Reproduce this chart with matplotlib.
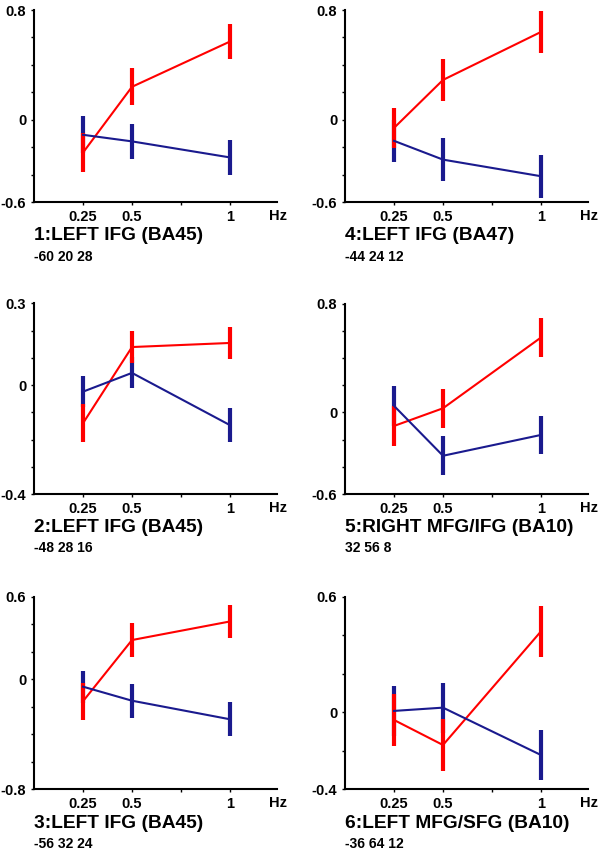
import matplotlib
matplotlib.use("Agg")
import matplotlib.pyplot as plt
import numpy as np

plt.rcParams['font.family'] = ['Liberation Sans', 'DejaVu Sans']
plt.rcParams['font.weight'] = 'bold'

freqs = [0.25, 0.5, 1.0]

titles = ["1:LEFT IFG (BA45)", "2:LEFT IFG (BA45)", "3:LEFT IFG (BA45)",
          "4:LEFT IFG (BA47)", "5:RIGHT MFG/IFG (BA10)", "6:LEFT MFG/SFG (BA10)"]
coords = ["-60 20 28", "-48 28 16", "-56 32 24",
          "-44 24 12", "32 56 8", "-36 64 12"]

red_mean = [[-0.24, 0.24, 0.57], [-0.14, 0.14, 0.155], [-0.16, 0.285, 0.42],
            [-0.06, 0.29, 0.64], [-0.10, 0.03, 0.55], [-0.04, -0.17, 0.42]]
red_err = [[0.14, 0.135, 0.13], [0.07, 0.06, 0.06], [0.135, 0.125, 0.122],
           [0.146, 0.156, 0.155], [0.15, 0.142, 0.141], [0.134, 0.133, 0.132]]
blue_mean = [[-0.11, -0.158, -0.275], [-0.024, 0.045, -0.147], [-0.054, -0.156, -0.291],
             [-0.154, -0.291, -0.412], [0.048, -0.319, -0.166], [0.007, 0.024, -0.222]]
blue_err = [[0.134, 0.129, 0.129], [0.058, 0.057, 0.063], [0.116, 0.125, 0.124],
            [0.154, 0.158, 0.158], [0.148, 0.143, 0.142], [0.13, 0.13, 0.132]]

y_limits = [(-0.6, 0.8), (-0.4, 0.3), (-0.8, 0.6),
            (-0.6, 0.8), (-0.6, 0.8), (-0.4, 0.6)]
y_steps = [0.2, 0.1, 0.2, 0.2, 0.2, 0.2]

RED = "#ff0000"
BLUE = "#1a1a8e"

fig = plt.figure(figsize=(6.0, 8.51), dpi=100)

col_left = [34 / 600, 345 / 600]
col_width = 243 / 600
row_bottom = [1 - 202 / 851, 1 - 494 / 851, 1 - 789.3 / 851]
row_height = [192 / 851, 190.5 / 851, 192.6 / 851]


def fmt_tick(v, lo, hi):
    if np.isclose(v, 0):
        return "0"
    if np.isclose(v, lo) or np.isclose(v, hi):
        return f"{v:g}"
    return ""


def draw_panel(ax, i):
    lo, hi = y_limits[i]
    # error bars first, blue under red
    ax.vlines(freqs, np.array(blue_mean[i]) - blue_err[i], np.array(blue_mean[i]) + blue_err[i],
              color=BLUE, lw=3.0, zorder=2)
    ax.vlines(freqs, np.array(red_mean[i]) - red_err[i], np.array(red_mean[i]) + red_err[i],
              color=RED, lw=3.0, zorder=3)
    ax.plot(freqs, red_mean[i], color=RED, lw=1.5, zorder=4)
    ax.plot(freqs, blue_mean[i], color=BLUE, lw=1.5, zorder=5)

    ax.set_xlim(0, 1.24)
    ax.set_ylim(lo, hi)
    ax.spines['top'].set_visible(False)
    ax.spines['right'].set_visible(False)
    ax.spines['left'].set_linewidth(1.5)
    ax.spines['bottom'].set_linewidth(1.5)

    ax.set_xticks([0.25, 0.5, 0.75, 1.0])
    ax.set_xticklabels(["0.25", "0.5", "", "1"])
    yt = np.round(np.arange(lo, hi + 1e-9, y_steps[i]), 3)
    ax.set_yticks(yt)
    ax.set_yticklabels([fmt_tick(v, lo, hi) for v in yt])
    ax.tick_params(axis='both', direction='out', length=2.5, width=1, labelsize=10.5, pad=3)
    ax.text(1.005, -0.035, "Hz", transform=ax.transAxes, fontsize=10.5, fontweight='bold',
            ha='center', va='top')
    ax.text(0.0, -0.175, titles[i], transform=ax.transAxes, fontsize=13.8, fontweight='bold',
            ha='left', va='center')
    ax.text(0.0, -0.285, coords[i], transform=ax.transAxes, fontsize=10, fontweight='bold',
            ha='left', va='center')


for i in range(6):
    col = i // 3
    row = i % 3
    ax = fig.add_axes([col_left[col], row_bottom[row], col_width, row_height[row]])
    draw_panel(ax, i)

fig.savefig("out.png", dpi=100)
